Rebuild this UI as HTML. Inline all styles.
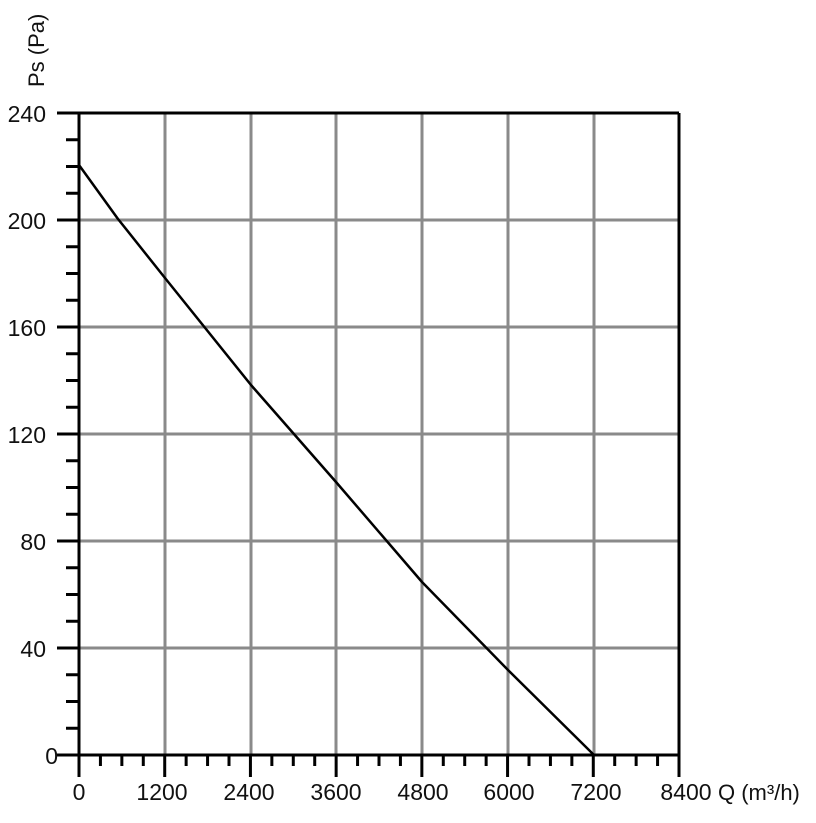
<!DOCTYPE html>
<html><head><style>body{margin:0;background:#fff}</style></head><body>
<svg width="816" height="818" xmlns="http://www.w3.org/2000/svg" font-family="Liberation Sans, sans-serif">
<g stroke="#8a8a8a" stroke-width="3">
<line x1="165" y1="113" x2="165" y2="755"/><line x1="251" y1="113" x2="251" y2="755"/><line x1="336" y1="113" x2="336" y2="755"/><line x1="422" y1="113" x2="422" y2="755"/><line x1="508" y1="113" x2="508" y2="755"/><line x1="594" y1="113" x2="594" y2="755"/>
<line x1="79" y1="220" x2="679" y2="220"/><line x1="79" y1="327" x2="679" y2="327"/><line x1="79" y1="434" x2="679" y2="434"/><line x1="79" y1="541" x2="679" y2="541"/><line x1="79" y1="648" x2="679" y2="648"/>
</g>
<g stroke="#000" stroke-width="3" fill="none">
<line x1="57" y1="113" x2="679" y2="113"/>
<line x1="679" y1="113" x2="679" y2="755"/>
<line x1="79" y1="113" x2="79" y2="777"/>
<line x1="57" y1="755" x2="679" y2="755"/>
<polyline points="79,165 118,219 165,278 251,385 336,482 422,582 508,670 594,755" stroke-width="2.5" stroke-linejoin="round"/>
</g>
<g stroke="#000" stroke-width="3" id="yt"></g>
<g stroke="#000" stroke-width="3" id="xt"></g>
<g font-size="23" fill="#111" text-anchor="end">
<text x="46" y="122">240</text><text x="46" y="229">200</text><text x="46" y="336">160</text><text x="46" y="443">120</text><text x="46" y="550">80</text><text x="46" y="657">40</text><text x="58" y="764">0</text>
</g>
<g font-size="23" fill="#111" text-anchor="middle">
<text x="79" y="800">0</text><text x="162" y="800">1200</text><text x="249" y="800">2400</text><text x="336" y="800">3600</text><text x="423" y="800">4800</text><text x="509" y="800">6000</text><text x="596" y="800">7200</text><text x="686" y="800">8400</text>
</g>
<text x="718" y="800" font-size="22" fill="#111">Q (m³/h)</text>
<text transform="translate(44,87) rotate(-90)" font-size="22" fill="#111">Ps (Pa)</text>
<script>
var ns="http://www.w3.org/2000/svg",yt=document.getElementById("yt"),xt=document.getElementById("xt");
for(var i=0;i<=24;i++){var y=755-i*642/24;var l=document.createElementNS(ns,"line");var maj=i%4==0;l.setAttribute("x1",maj?57:66);l.setAttribute("x2",79);l.setAttribute("y1",y);l.setAttribute("y2",y);yt.appendChild(l);}
for(var i=0;i<=28;i++){var x=79+i*600/28;var l=document.createElementNS(ns,"line");var maj=i%4==0;l.setAttribute("y1",755);l.setAttribute("y2",maj?777:766);l.setAttribute("x1",x);l.setAttribute("x2",x);xt.appendChild(l);}
</script>
</svg>
</body></html>
